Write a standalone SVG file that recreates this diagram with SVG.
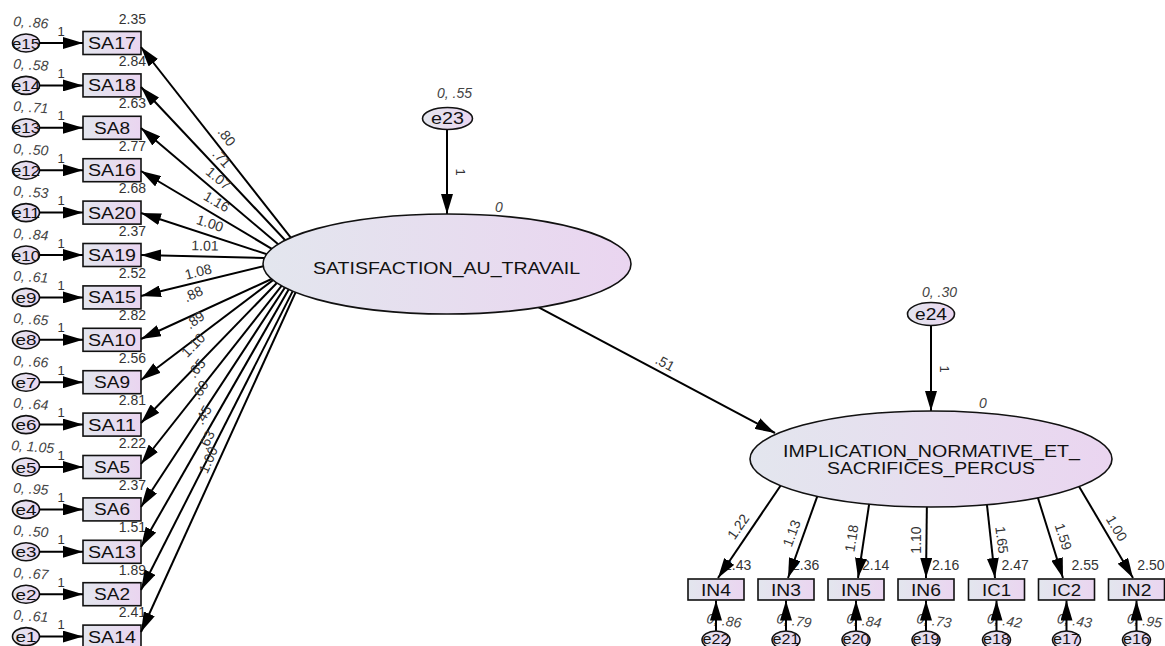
<svg xmlns="http://www.w3.org/2000/svg" width="1165" height="646" viewBox="0 0 1165 646">
<defs>
<linearGradient id="g" x1="0" y1="0" x2="1" y2="0"><stop offset="0" stop-color="#e3e6ee"/><stop offset="1" stop-color="#ead5f0"/></linearGradient>
<marker id="ah" markerUnits="userSpaceOnUse" markerWidth="20" markerHeight="12" refX="20" refY="6" orient="auto"><path d="M0,0 L20,6 L0,12 Z" fill="#000"/></marker>
<style>
text{font-family:"Liberation Sans",Arial,sans-serif}
.lbl{fill:#111;text-anchor:middle}
.num{font-size:14px;fill:#333}
.pl{font-size:14px;fill:#333;text-anchor:middle}
.one{font-size:13px;fill:#333;text-anchor:middle}
.var{font-size:14px;fill:#444;font-style:italic}
.node{fill:url(#g);stroke:#111;stroke-width:1.6}
#connectors line{stroke:#000;stroke-width:2;marker-end:url(#ah)}
</style>
</defs>
<rect width="1165" height="646" fill="#fff"/>

<!-- observed boxes, left column -->
<g id="SA17" transform="translate(0,43)"><rect class="node" x="83" y="-11.5" width="58" height="23"/><text class="lbl" x="112" y="6" font-size="16" textLength="48" lengthAdjust="spacingAndGlyphs">SA17</text><text class="num" x="146" y="-19.5" text-anchor="end">2.35</text></g>
<g id="SA18" transform="translate(0,85.4)"><rect class="node" x="83" y="-11.5" width="58" height="23"/><text class="lbl" x="112" y="6" font-size="16" textLength="48" lengthAdjust="spacingAndGlyphs">SA18</text><text class="num" x="146" y="-19.5" text-anchor="end">2.84</text></g>
<g id="SA8" transform="translate(0,127.8)"><rect class="node" x="83" y="-11.5" width="58" height="23"/><text class="lbl" x="112" y="6" font-size="16" textLength="36" lengthAdjust="spacingAndGlyphs">SA8</text><text class="num" x="146" y="-19.5" text-anchor="end">2.63</text></g>
<g id="SA16" transform="translate(0,170.2)"><rect class="node" x="83" y="-11.5" width="58" height="23"/><text class="lbl" x="112" y="6" font-size="16" textLength="48" lengthAdjust="spacingAndGlyphs">SA16</text><text class="num" x="146" y="-19.5" text-anchor="end">2.77</text></g>
<g id="SA20" transform="translate(0,212.6)"><rect class="node" x="83" y="-11.5" width="58" height="23"/><text class="lbl" x="112" y="6" font-size="16" textLength="48" lengthAdjust="spacingAndGlyphs">SA20</text><text class="num" x="146" y="-19.5" text-anchor="end">2.68</text></g>
<g id="SA19" transform="translate(0,255)"><rect class="node" x="83" y="-11.5" width="58" height="23"/><text class="lbl" x="112" y="6" font-size="16" textLength="48" lengthAdjust="spacingAndGlyphs">SA19</text><text class="num" x="146" y="-19.5" text-anchor="end">2.37</text></g>
<g id="SA15" transform="translate(0,297.4)"><rect class="node" x="83" y="-11.5" width="58" height="23"/><text class="lbl" x="112" y="6" font-size="16" textLength="48" lengthAdjust="spacingAndGlyphs">SA15</text><text class="num" x="146" y="-19.5" text-anchor="end">2.52</text></g>
<g id="SA10" transform="translate(0,339.8)"><rect class="node" x="83" y="-11.5" width="58" height="23"/><text class="lbl" x="112" y="6" font-size="16" textLength="48" lengthAdjust="spacingAndGlyphs">SA10</text><text class="num" x="146" y="-19.5" text-anchor="end">2.82</text></g>
<g id="SA9" transform="translate(0,382.2)"><rect class="node" x="83" y="-11.5" width="58" height="23"/><text class="lbl" x="112" y="6" font-size="16" textLength="36" lengthAdjust="spacingAndGlyphs">SA9</text><text class="num" x="146" y="-19.5" text-anchor="end">2.56</text></g>
<g id="SA11" transform="translate(0,424.6)"><rect class="node" x="83" y="-11.5" width="58" height="23"/><text class="lbl" x="112" y="6" font-size="16" textLength="48" lengthAdjust="spacingAndGlyphs">SA11</text><text class="num" x="146" y="-19.5" text-anchor="end">2.81</text></g>
<g id="SA5" transform="translate(0,467)"><rect class="node" x="83" y="-11.5" width="58" height="23"/><text class="lbl" x="112" y="6" font-size="16" textLength="36" lengthAdjust="spacingAndGlyphs">SA5</text><text class="num" x="146" y="-19.5" text-anchor="end">2.22</text></g>
<g id="SA6" transform="translate(0,509.4)"><rect class="node" x="83" y="-11.5" width="58" height="23"/><text class="lbl" x="112" y="6" font-size="16" textLength="36" lengthAdjust="spacingAndGlyphs">SA6</text><text class="num" x="146" y="-19.5" text-anchor="end">2.37</text></g>
<g id="SA13" transform="translate(0,551.8)"><rect class="node" x="83" y="-11.5" width="58" height="23"/><text class="lbl" x="112" y="6" font-size="16" textLength="48" lengthAdjust="spacingAndGlyphs">SA13</text><text class="num" x="146" y="-19.5" text-anchor="end">1.51</text></g>
<g id="SA2" transform="translate(0,594.2)"><rect class="node" x="83" y="-11.5" width="58" height="23"/><text class="lbl" x="112" y="6" font-size="16" textLength="36" lengthAdjust="spacingAndGlyphs">SA2</text><text class="num" x="146" y="-19.5" text-anchor="end">1.89</text></g>
<g id="SA14" transform="translate(0,636.6)"><rect class="node" x="83" y="-11.5" width="58" height="23"/><text class="lbl" x="112" y="6" font-size="16" textLength="48" lengthAdjust="spacingAndGlyphs">SA14</text><text class="num" x="146" y="-19.5" text-anchor="end">2.41</text></g>

<!-- error terms, left column -->
<g id="e15" transform="translate(0,43)"><ellipse class="node" cx="26" cy="0" rx="13.5" ry="9"/><text class="lbl" x="26" y="5.5" font-size="15" textLength="28" lengthAdjust="spacingAndGlyphs">e15</text><text class="var" x="13" y="-17" transform="rotate(4 13 -17)">0, .86</text></g>
<g id="e14" transform="translate(0,85.4)"><ellipse class="node" cx="26" cy="0" rx="13.5" ry="9"/><text class="lbl" x="26" y="5.5" font-size="15" textLength="28" lengthAdjust="spacingAndGlyphs">e14</text><text class="var" x="13" y="-17" transform="rotate(4 13 -17)">0, .58</text></g>
<g id="e13" transform="translate(0,127.8)"><ellipse class="node" cx="26" cy="0" rx="13.5" ry="9"/><text class="lbl" x="26" y="5.5" font-size="15" textLength="28" lengthAdjust="spacingAndGlyphs">e13</text><text class="var" x="13" y="-17" transform="rotate(4 13 -17)">0, .71</text></g>
<g id="e12" transform="translate(0,170.2)"><ellipse class="node" cx="26" cy="0" rx="13.5" ry="9"/><text class="lbl" x="26" y="5.5" font-size="15" textLength="28" lengthAdjust="spacingAndGlyphs">e12</text><text class="var" x="13" y="-17" transform="rotate(4 13 -17)">0, .50</text></g>
<g id="e11" transform="translate(0,212.6)"><ellipse class="node" cx="26" cy="0" rx="13.5" ry="9"/><text class="lbl" x="26" y="5.5" font-size="15" textLength="28" lengthAdjust="spacingAndGlyphs">e11</text><text class="var" x="13" y="-17" transform="rotate(4 13 -17)">0, .53</text></g>
<g id="e10" transform="translate(0,255)"><ellipse class="node" cx="26" cy="0" rx="13.5" ry="9"/><text class="lbl" x="26" y="5.5" font-size="15" textLength="28" lengthAdjust="spacingAndGlyphs">e10</text><text class="var" x="13" y="-17" transform="rotate(4 13 -17)">0, .84</text></g>
<g id="e9" transform="translate(0,297.4)"><ellipse class="node" cx="26" cy="0" rx="13.5" ry="9"/><text class="lbl" x="26" y="5.5" font-size="15" textLength="21" lengthAdjust="spacingAndGlyphs">e9</text><text class="var" x="13" y="-17" transform="rotate(4 13 -17)">0, .61</text></g>
<g id="e8" transform="translate(0,339.8)"><ellipse class="node" cx="26" cy="0" rx="13.5" ry="9"/><text class="lbl" x="26" y="5.5" font-size="15" textLength="21" lengthAdjust="spacingAndGlyphs">e8</text><text class="var" x="13" y="-17" transform="rotate(4 13 -17)">0, .65</text></g>
<g id="e7" transform="translate(0,382.2)"><ellipse class="node" cx="26" cy="0" rx="13.5" ry="9"/><text class="lbl" x="26" y="5.5" font-size="15" textLength="21" lengthAdjust="spacingAndGlyphs">e7</text><text class="var" x="13" y="-17" transform="rotate(4 13 -17)">0, .66</text></g>
<g id="e6" transform="translate(0,424.6)"><ellipse class="node" cx="26" cy="0" rx="13.5" ry="9"/><text class="lbl" x="26" y="5.5" font-size="15" textLength="21" lengthAdjust="spacingAndGlyphs">e6</text><text class="var" x="13" y="-17" transform="rotate(4 13 -17)">0, .64</text></g>
<g id="e5" transform="translate(0,467)"><ellipse class="node" cx="26" cy="0" rx="13.5" ry="9"/><text class="lbl" x="26" y="5.5" font-size="15" textLength="21" lengthAdjust="spacingAndGlyphs">e5</text><text class="var" x="11" y="-17" transform="rotate(4 11 -17)">0, 1.05</text></g>
<g id="e4" transform="translate(0,509.4)"><ellipse class="node" cx="26" cy="0" rx="13.5" ry="9"/><text class="lbl" x="26" y="5.5" font-size="15" textLength="21" lengthAdjust="spacingAndGlyphs">e4</text><text class="var" x="13" y="-17" transform="rotate(4 13 -17)">0, .95</text></g>
<g id="e3" transform="translate(0,551.8)"><ellipse class="node" cx="26" cy="0" rx="13.5" ry="9"/><text class="lbl" x="26" y="5.5" font-size="15" textLength="21" lengthAdjust="spacingAndGlyphs">e3</text><text class="var" x="13" y="-17" transform="rotate(4 13 -17)">0, .50</text></g>
<g id="e2" transform="translate(0,594.2)"><ellipse class="node" cx="26" cy="0" rx="13.5" ry="9"/><text class="lbl" x="26" y="5.5" font-size="15" textLength="21" lengthAdjust="spacingAndGlyphs">e2</text><text class="var" x="13" y="-17" transform="rotate(4 13 -17)">0, .67</text></g>
<g id="e1" transform="translate(0,636.6)"><ellipse class="node" cx="26" cy="0" rx="13.5" ry="9"/><text class="lbl" x="26" y="5.5" font-size="15" textLength="21" lengthAdjust="spacingAndGlyphs">e1</text><text class="var" x="13" y="-17" transform="rotate(4 13 -17)">0, .61</text></g>

<!-- observed boxes, bottom row -->
<g id="IN4" transform="translate(716,0)"><rect class="node" x="-28" y="579" width="56" height="21"/><text class="lbl" x="0" y="595.5" font-size="16" textLength="30" lengthAdjust="spacingAndGlyphs">IN4</text><text class="num" x="8" y="570">2.43</text></g>
<g id="IN3" transform="translate(786,0)"><rect class="node" x="-28" y="579" width="56" height="21"/><text class="lbl" x="0" y="595.5" font-size="16" textLength="30" lengthAdjust="spacingAndGlyphs">IN3</text><text class="num" x="6" y="570">2.36</text></g>
<g id="IN5" transform="translate(856,0)"><rect class="node" x="-28" y="579" width="56" height="21"/><text class="lbl" x="0" y="595.5" font-size="16" textLength="30" lengthAdjust="spacingAndGlyphs">IN5</text><text class="num" x="6" y="570">2.14</text></g>
<g id="IN6" transform="translate(926,0)"><rect class="node" x="-28" y="579" width="56" height="21"/><text class="lbl" x="0" y="595.5" font-size="16" textLength="30" lengthAdjust="spacingAndGlyphs">IN6</text><text class="num" x="6" y="570">2.16</text></g>
<g id="IC1" transform="translate(996.5,0)"><rect class="node" x="-28" y="579" width="56" height="21"/><text class="lbl" x="0" y="595.5" font-size="16" textLength="29" lengthAdjust="spacingAndGlyphs">IC1</text><text class="num" x="5" y="570">2.47</text></g>
<g id="IC2" transform="translate(1066.5,0)"><rect class="node" x="-28" y="579" width="56" height="21"/><text class="lbl" x="0" y="595.5" font-size="16" textLength="29" lengthAdjust="spacingAndGlyphs">IC2</text><text class="num" x="5" y="570">2.55</text></g>
<g id="IN2" transform="translate(1136.5,0)"><rect class="node" x="-28" y="579" width="56" height="21"/><text class="lbl" x="0" y="595.5" font-size="16" textLength="30" lengthAdjust="spacingAndGlyphs">IN2</text><text class="num" x="28" y="570" text-anchor="end">2.50</text></g>

<!-- error terms, bottom row -->
<g id="e22" transform="translate(716,0)"><ellipse class="node" cx="0" cy="640" rx="14" ry="9"/><text class="lbl" x="0" y="643.5" font-size="14" textLength="27" lengthAdjust="spacingAndGlyphs">e22</text><text class="var" x="-10" y="623" transform="rotate(8 -10 623)">0, .86</text></g>
<g id="e21" transform="translate(786,0)"><ellipse class="node" cx="0" cy="640" rx="14" ry="9"/><text class="lbl" x="0" y="643.5" font-size="14" textLength="27" lengthAdjust="spacingAndGlyphs">e21</text><text class="var" x="-10" y="623" transform="rotate(8 -10 623)">0, .79</text></g>
<g id="e20" transform="translate(856,0)"><ellipse class="node" cx="0" cy="640" rx="14" ry="9"/><text class="lbl" x="0" y="643.5" font-size="14" textLength="27" lengthAdjust="spacingAndGlyphs">e20</text><text class="var" x="-10" y="623" transform="rotate(8 -10 623)">0, .84</text></g>
<g id="e19" transform="translate(926,0)"><ellipse class="node" cx="0" cy="640" rx="14" ry="9"/><text class="lbl" x="0" y="643.5" font-size="14" textLength="27" lengthAdjust="spacingAndGlyphs">e19</text><text class="var" x="-10" y="623" transform="rotate(8 -10 623)">0, .73</text></g>
<g id="e18" transform="translate(996.5,0)"><ellipse class="node" cx="0" cy="640" rx="14" ry="9"/><text class="lbl" x="0" y="643.5" font-size="14" textLength="27" lengthAdjust="spacingAndGlyphs">e18</text><text class="var" x="-10" y="623" transform="rotate(8 -10 623)">0, .42</text></g>
<g id="e17" transform="translate(1066.5,0)"><ellipse class="node" cx="0" cy="640" rx="14" ry="9"/><text class="lbl" x="0" y="643.5" font-size="14" textLength="27" lengthAdjust="spacingAndGlyphs">e17</text><text class="var" x="-10" y="623" transform="rotate(8 -10 623)">0, .43</text></g>
<g id="e16" transform="translate(1136.5,0)"><ellipse class="node" cx="0" cy="640" rx="14" ry="9"/><text class="lbl" x="0" y="643.5" font-size="14" textLength="27" lengthAdjust="spacingAndGlyphs">e16</text><text class="var" x="-10" y="623" transform="rotate(8 -10 623)">0, .95</text></g>

<!-- connectors -->
<g id="connectors">
<line x1="39.5" y1="43" x2="83" y2="43"/>
<line x1="39.5" y1="85.4" x2="83" y2="85.4"/>
<line x1="39.5" y1="127.8" x2="83" y2="127.8"/>
<line x1="39.5" y1="170.2" x2="83" y2="170.2"/>
<line x1="39.5" y1="212.6" x2="83" y2="212.6"/>
<line x1="39.5" y1="255" x2="83" y2="255"/>
<line x1="39.5" y1="297.4" x2="83" y2="297.4"/>
<line x1="39.5" y1="339.8" x2="83" y2="339.8"/>
<line x1="39.5" y1="382.2" x2="83" y2="382.2"/>
<line x1="39.5" y1="424.6" x2="83" y2="424.6"/>
<line x1="39.5" y1="467" x2="83" y2="467"/>
<line x1="39.5" y1="509.4" x2="83" y2="509.4"/>
<line x1="39.5" y1="551.8" x2="83" y2="551.8"/>
<line x1="39.5" y1="594.2" x2="83" y2="594.2"/>
<line x1="39.5" y1="636.6" x2="83" y2="636.6"/>

<line x1="296.9" y1="245.4" x2="141" y2="47"/>
<line x1="293.2" y1="248.7" x2="141" y2="87"/>
<line x1="288.2" y1="252.8" x2="141" y2="128"/>
<line x1="282.3" y1="255.1" x2="141" y2="171"/>
<line x1="277.4" y1="257.7" x2="141" y2="213"/>
<line x1="275" y1="258.3" x2="141" y2="255"/>
<line x1="275.7" y1="263.2" x2="141" y2="296"/>
<line x1="282.4" y1="274" x2="141" y2="339"/>
<line x1="282.3" y1="273.1" x2="141" y2="380"/>
<line x1="285.3" y1="274.2" x2="141" y2="423"/>
<line x1="288.8" y1="276.7" x2="141" y2="464"/>
<line x1="291.5" y1="277.5" x2="141" y2="507"/>
<line x1="294.8" y1="278.7" x2="141" y2="547"/>
<line x1="297.8" y1="281.1" x2="141" y2="590"/>
<line x1="300" y1="282.7" x2="141" y2="632"/>

<line x1="447" y1="129.5" x2="447" y2="214"/>
<line x1="931" y1="325.5" x2="931" y2="411"/>
<line x1="531.2" y1="303.3" x2="775" y2="433"/>

<line x1="784.6" y1="479.7" x2="718" y2="578"/>
<line x1="820.4" y1="487.6" x2="788" y2="578"/>
<line x1="870.5" y1="495.1" x2="858" y2="578"/>
<line x1="927" y1="496" x2="926" y2="578"/>
<line x1="985.9" y1="495.1" x2="995" y2="578"/>
<line x1="1035" y1="488.5" x2="1063" y2="578"/>
<line x1="1074.9" y1="479.4" x2="1133" y2="578"/>

<line x1="716" y1="631" x2="716" y2="600.5"/>
<line x1="786" y1="631" x2="786" y2="600.5"/>
<line x1="856" y1="631" x2="856" y2="600.5"/>
<line x1="926" y1="631" x2="926" y2="600.5"/>
<line x1="996.5" y1="631" x2="996.5" y2="600.5"/>
<line x1="1066.5" y1="631" x2="1066.5" y2="600.5"/>
<line x1="1136.5" y1="631" x2="1136.5" y2="600.5"/>
</g>

<!-- path labels -->
<g id="path-labels">
<text class="one" x="61" y="35.5">1</text>
<text class="one" x="61" y="77.9">1</text>
<text class="one" x="61" y="120.3">1</text>
<text class="one" x="61" y="162.7">1</text>
<text class="one" x="61" y="205.1">1</text>
<text class="one" x="61" y="247.5">1</text>
<text class="one" x="61" y="289.9">1</text>
<text class="one" x="61" y="332.3">1</text>
<text class="one" x="61" y="374.7">1</text>
<text class="one" x="61" y="417.1">1</text>
<text class="one" x="61" y="459.5">1</text>
<text class="one" x="61" y="501.9">1</text>
<text class="one" x="61" y="544.3">1</text>
<text class="one" x="61" y="586.7">1</text>
<text class="one" x="61" y="629.1">1</text>

<text class="pl" x="226.7" y="141.5" transform="rotate(52 226.7 136.7)">.80</text>
<text class="pl" x="221.7" y="163.1" transform="rotate(47 221.7 158.3)">.71</text>
<text class="pl" x="218.3" y="183.1" transform="rotate(40 218.3 178.3)">1.07</text>
<text class="pl" x="216.7" y="206.5" transform="rotate(30 216.7 201.7)">1.16</text>
<text class="pl" x="210" y="228.1" transform="rotate(18 210 223.3)">1.00</text>
<text class="pl" x="205" y="250.5" transform="rotate(1 205 245.7)">1.01</text>
<text class="pl" x="198.3" y="276.5" transform="rotate(-14 198.3 271.7)">1.08</text>
<text class="pl" x="193.3" y="298.8" transform="rotate(-25 193.3 294)">.88</text>
<text class="pl" x="195" y="324.8" transform="rotate(-37 195 320)">.89</text>
<text class="pl" x="193.3" y="349.8" transform="rotate(-46 193.3 345)">1.10</text>
<text class="pl" x="196.7" y="373.1" transform="rotate(-52 196.7 368.3)">.65</text>
<text class="pl" x="200" y="394.8" transform="rotate(-57 200 390)">.60</text>
<text class="pl" x="203.3" y="419.8" transform="rotate(-60 203.3 415)">.45</text>
<text class="pl" x="206.7" y="444.8" transform="rotate(-63 206.7 440)">.63</text>
<text class="pl" x="208.3" y="464.8" transform="rotate(-66 208.3 460)">1.00</text>

<text class="one" x="460" y="176.5" transform="rotate(90 460 172)">1</text>
<text class="one" x="944" y="373.5" transform="rotate(90 944 369)">1</text>
<text class="pl" x="665" y="367.8" transform="rotate(28 665 363)">.51</text>

<text class="pl" x="738.3" y="531.5" transform="rotate(-55 738.3 526.7)">1.22</text>
<text class="pl" x="791.7" y="538.1" transform="rotate(-70 791.7 533.3)">1.13</text>
<text class="pl" x="851.7" y="543.1" transform="rotate(-81 851.7 538.3)">1.18</text>
<text class="pl" x="916.7" y="544.8" transform="rotate(-90 916.7 540)">1.10</text>
<text class="pl" x="1001.7" y="544.8" transform="rotate(83 1001.7 540)">1.65</text>
<text class="pl" x="1063.3" y="541.5" transform="rotate(72 1063.3 536.7)">1.59</text>
<text class="pl" x="1116.7" y="533.1" transform="rotate(59 1116.7 528.3)">1.00</text>
</g>

<!-- latent variables -->
<g id="SATISFACTION_AU_TRAVAIL">
<ellipse class="node" cx="447" cy="264" rx="184" ry="50"/>
<text class="lbl" x="446.5" y="274" font-size="17" textLength="267" lengthAdjust="spacingAndGlyphs">SATISFACTION_AU_TRAVAIL</text>
<text class="var" x="499" y="212" text-anchor="middle">0</text>
</g>
<g id="IMPLICATION_NORMATIVE_ET_SACRIFICES_PERCUS">
<ellipse class="node" cx="931" cy="459" rx="181" ry="48"/>
<text class="lbl" x="931.5" y="456.5" font-size="16" textLength="297" lengthAdjust="spacingAndGlyphs">IMPLICATION_NORMATIVE_ET_</text>
<text class="lbl" x="931" y="473.5" font-size="16" textLength="208" lengthAdjust="spacingAndGlyphs">SACRIFICES_PERCUS</text>
<text class="var" x="983" y="408" text-anchor="middle">0</text>
</g>
<g id="e23">
<ellipse class="node" cx="447.5" cy="118.5" rx="25" ry="11"/>
<text class="lbl" x="447.5" y="124" font-size="16" textLength="33" lengthAdjust="spacingAndGlyphs">e23</text>
<text class="var" x="437" y="98">0, .55</text>
</g>
<g id="e24">
<ellipse class="node" cx="931" cy="314" rx="23.5" ry="11.5"/>
<text class="lbl" x="931" y="320" font-size="16" textLength="32" lengthAdjust="spacingAndGlyphs">e24</text>
<text class="var" x="922" y="297">0, .30</text>
</g>
</svg>
